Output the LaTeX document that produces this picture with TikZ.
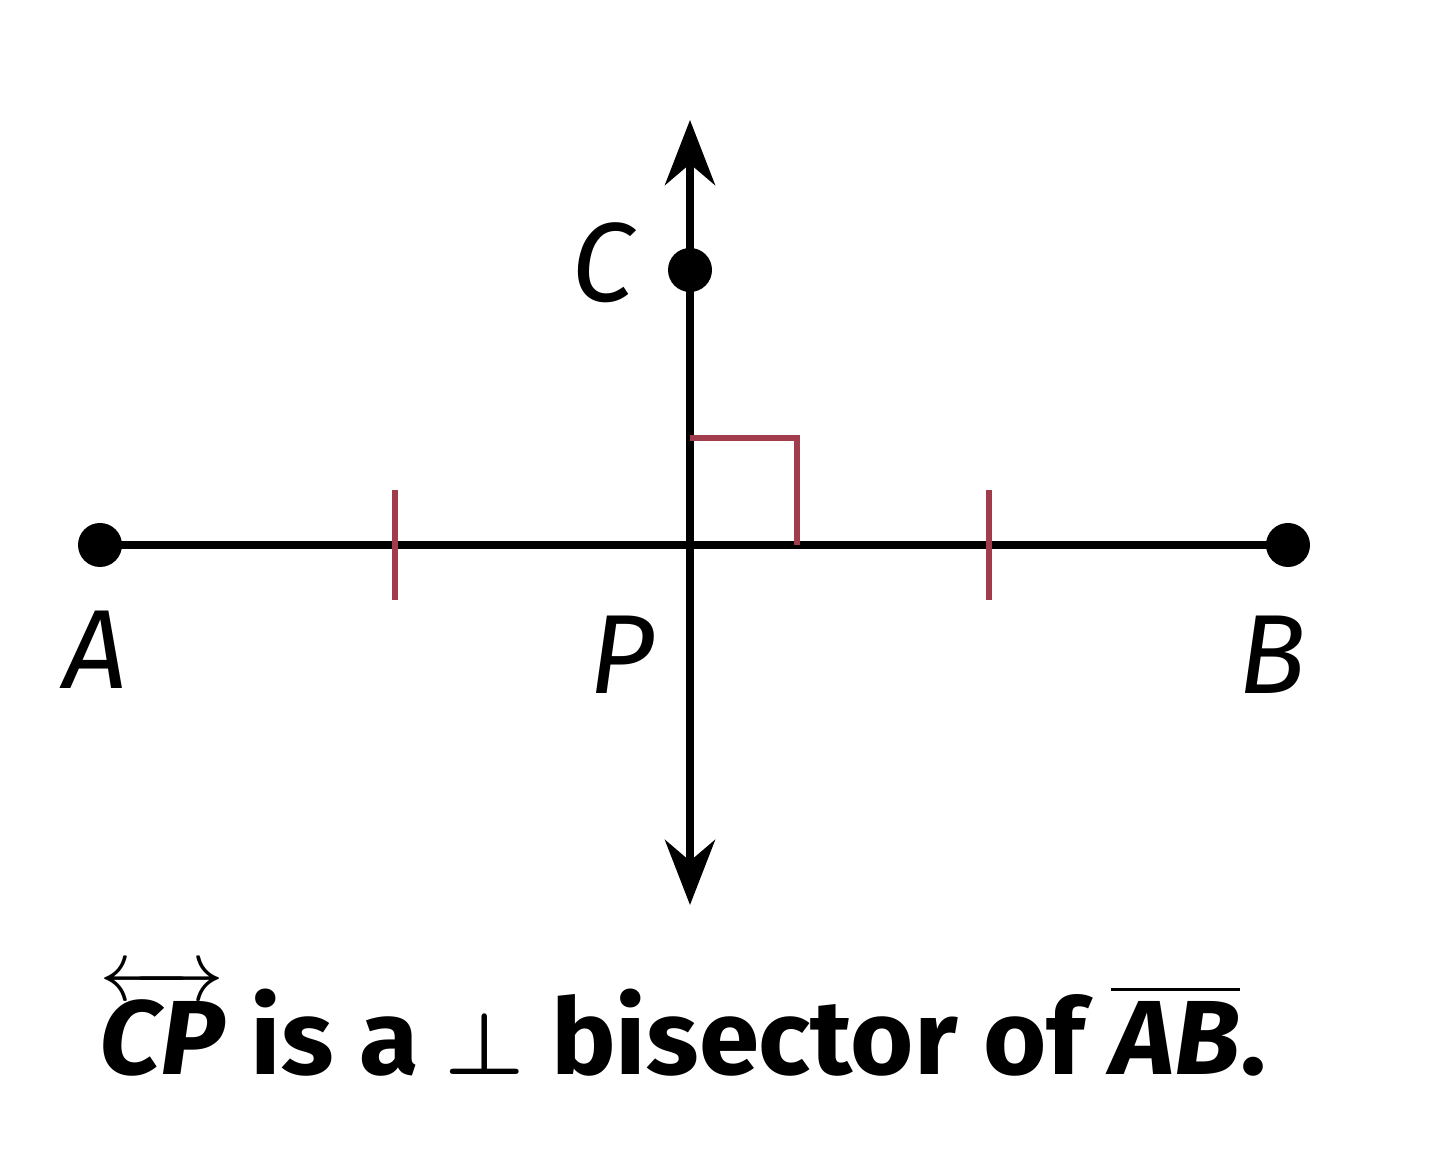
\documentclass[tikz,border=0pt]{standalone}
\usepackage{amsmath}
\usepackage{fontspec}
\setmainfont{Fira Sans}
\usetikzlibrary{arrows.meta,calc}
\definecolor{markred}{RGB}{160,60,75}
\begin{document}
\begin{tikzpicture}[line width=2.3pt,
    dot/.style={circle,fill=black,inner sep=0pt,minimum size=0.44cm},
    lbl/.style={font=\fontsize{32}{32}\selectfont\itshape},
    bigtip/.tip={Stealth[length=0.65cm,width=0.5cm]}]
  \useasboundingbox (0,0) rectangle (14.4,11.7);
  % points
  \coordinate (P) at (6.9,6.25);
  \coordinate (top) at (6.9,10.5);
  \coordinate (bot) at (6.9,2.65);
  \node[dot] (A) at (1.0,6.25) {};
  \node[dot] (B) at (12.88,6.25) {};
  \node[dot] (C) at (6.9,9.0) {};
  % segment and perpendicular line
  \draw (A.center) -- (B.center);
  \draw[bigtip-bigtip] (bot) -- (top);
  % marks
  \draw[markred,line width=1.6pt] ($(P)+(0,1.07)$) -- ++(1.07,0) -- ++(0,-1.07);
  \draw[markred,line width=1.6pt] ($(A)!0.5!(P)+(0,0.55)$) -- ++(0,-1.1);
  \draw[markred,line width=1.6pt] ($(P)!0.5!(B)+(0,0.55)$) -- ++(0,-1.1);
  % labels
  \node[lbl] (la) at (0.95,5.2) {A};
  \node[lbl] (lb) at (12.72,5.15) {B};
  \node[lbl] (lp) at (6.22,5.15) {P};
  \node[lbl] (lc) at (6.03,9.07) {C};
  \node[anchor=base,xscale=1.03,font=\fontsize{30}{30}\selectfont\bfseries] (cap) at (6.83,0.95)
    {$\overleftrightarrow{\text{\bfseries\itshape CP}}$ is a $\boldsymbol{\perp}$ bisector of $\overline{\text{\bfseries\itshape AB}}$.};
\end{tikzpicture}
\end{document}
